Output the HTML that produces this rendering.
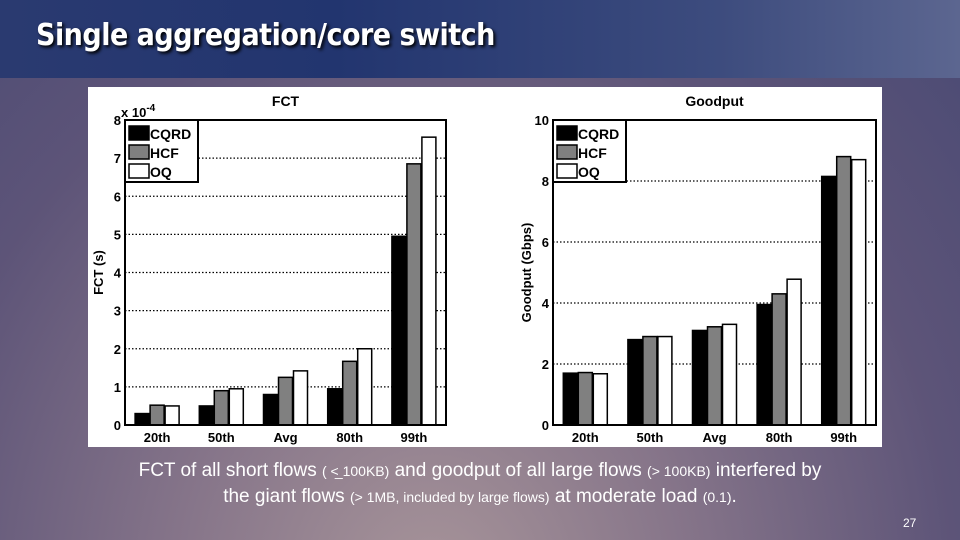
<!DOCTYPE html>
<html><head><meta charset="utf-8"><style>
body{margin:0;width:960px;height:540px;overflow:hidden;font-family:"Liberation Sans",sans-serif}
#bg{position:absolute;left:0;top:0;width:960px;height:540px;background:radial-gradient(ellipse at 45% 110%,#a8959a 0%,#857489 35%,#5d5478 70%,#4a4a74 100%)}
#band{position:absolute;left:0;top:0;width:960px;height:78px;background:linear-gradient(90deg,#2a3a70 0%,#22356f 35%,#3d4c7e 75%,#5c6690 100%)}
#title{position:absolute;left:36px;top:18px;color:#fff;font:bold 30px "DejaVu Sans Condensed","Liberation Sans",sans-serif;letter-spacing:-0.5px;text-shadow:2px 2px 3px #000}
#cap{position:absolute;left:60px;top:458px;width:840px;text-align:center;color:#fff;font:19px "Liberation Sans Narrow","Liberation Sans",sans-serif;line-height:25px}
#cap small{font-size:14px}
#pg{position:absolute;left:903px;top:516px;color:#fff;font-size:12px}
svg{position:absolute;left:0;top:0}
</style></head><body>
<div id="bg"></div>
<div id="band"></div>
<div id="title">Single aggregation/core switch</div>
<svg id="chart" width="960" height="540">
<rect x="88" y="87" width="794" height="360" fill="#fff"/>
</svg>
<div id="cap">FCT of all short flows <small>( &lt;̲ 100KB)</small> and goodput of all large flows <small>(&gt; 100KB)</small> interfered by<br>the giant flows <small>(&gt; 1MB, included by large flows)</small> at moderate load <small>(0.1)</small>.</div>
<div id="pg">27</div>
<script>
const categories=["20th","50th","Avg","80th","99th"];
const seriesNames=["CQRD","HCF","OQ"];
const fctCQRD=[0.3,0.5,0.8,0.95,4.95];
const fctHCF=[0.52,0.9,1.25,1.67,6.85];
const fctOQ=[0.5,0.95,1.42,2.0,7.55];
const gpCQRD=[1.7,2.8,3.1,3.95,8.15];
const gpHCF=[1.72,2.9,3.22,4.3,8.8];
const gpOQ=[1.68,2.9,3.3,4.78,8.7];
const fctTicks=[0,1,2,3,4,5,6,7,8];
const gpTicks=[0,2,4,6,8,10];
const colors=["#000","#808080","#fff"];
const svg=document.getElementById('chart');
const NS="http://www.w3.org/2000/svg";
function mk(t,a){const e=document.createElementNS(NS,t);for(const k in a)e.setAttribute(k,a[k]);svg.appendChild(e);return e;}
function chart(id,x0,x1,y0,y1,ymax,ticks,series,title,ylab,exp){
  const sy=v=>y1-(v/ymax)*(y1-y0);
  const cw=(x1-x0)/categories.length;
  const sx=i=>x0+cw*(i+0.5);
  ticks.forEach(t=>{
    if(t>0&&t<ymax){const g=mk('line',{x1:x0,x2:x1,y1:sy(t),y2:sy(t),stroke:'#000','stroke-width':1.2,'stroke-dasharray':'1.5,2'});
    
    }
    const l=mk('text',{x:x0-4,y:sy(t)+5,'text-anchor':'end','font-size':13,'font-weight':'bold'});l.textContent=t;
    
    
  });
  const bw=14;
  series.forEach((s,j)=>s.forEach((v,i)=>{
    const b=mk('rect',{x:sx(i)+(j-1)*15-bw/2,y:sy(v),width:bw,height:y1-sy(v),fill:colors[j],stroke:'#000','stroke-width':1.5});
    
    
  }));
  categories.forEach((c,i)=>{const l=mk('text',{x:sx(i),y:y1+17,'text-anchor':'middle','font-size':13,'font-weight':'bold'});l.textContent=c;
    
    });
  const f=mk('rect',{x:x0,y:y0,width:x1-x0,height:y1-y0,fill:'none',stroke:'#000','stroke-width':2});
  
  
  const tt=mk('text',{x:(x0+x1)/2,y:y0-14,'text-anchor':'middle','font-size':14,'font-weight':'bold'});tt.textContent=title;
  
  
  const yl=mk('text',{x:0,y:0,'text-anchor':'middle','font-size':13,'font-weight':'bold',transform:`translate(${x0-22},${(y0+y1)/2}) rotate(-90)`});yl.textContent=ylab;
  
  
  if(exp){const e=mk('text',{x:x0-4,y:y0-3,'font-size':13,'font-weight':'bold'});e.innerHTML='x 10<tspan dy="-6" font-size="10">-4</tspan>';
    
    }
  const lg=mk('rect',{x:x0,y:y0,width:73,height:62,fill:'#fff',stroke:'#000','stroke-width':2});
  
  
  seriesNames.forEach((n,j)=>{
    const sw=mk('rect',{x:x0+4,y:y0+6+j*19,width:20,height:14,fill:colors[j],stroke:'#000','stroke-width':1.5});
    
    
    const t=mk('text',{x:x0+25,y:y0+19+j*19,'font-size':14,'font-weight':'bold'});t.textContent=n;
    
    
  });
}
chart('fct',125,446,120,425,8,fctTicks,[fctCQRD,fctHCF,fctOQ],'FCT','FCT (s)',true);
chart('goodput',553,876,120,425,10,gpTicks,[gpCQRD,gpHCF,gpOQ],'Goodput','Goodput (Gbps)',false);
</script>
</body></html>
